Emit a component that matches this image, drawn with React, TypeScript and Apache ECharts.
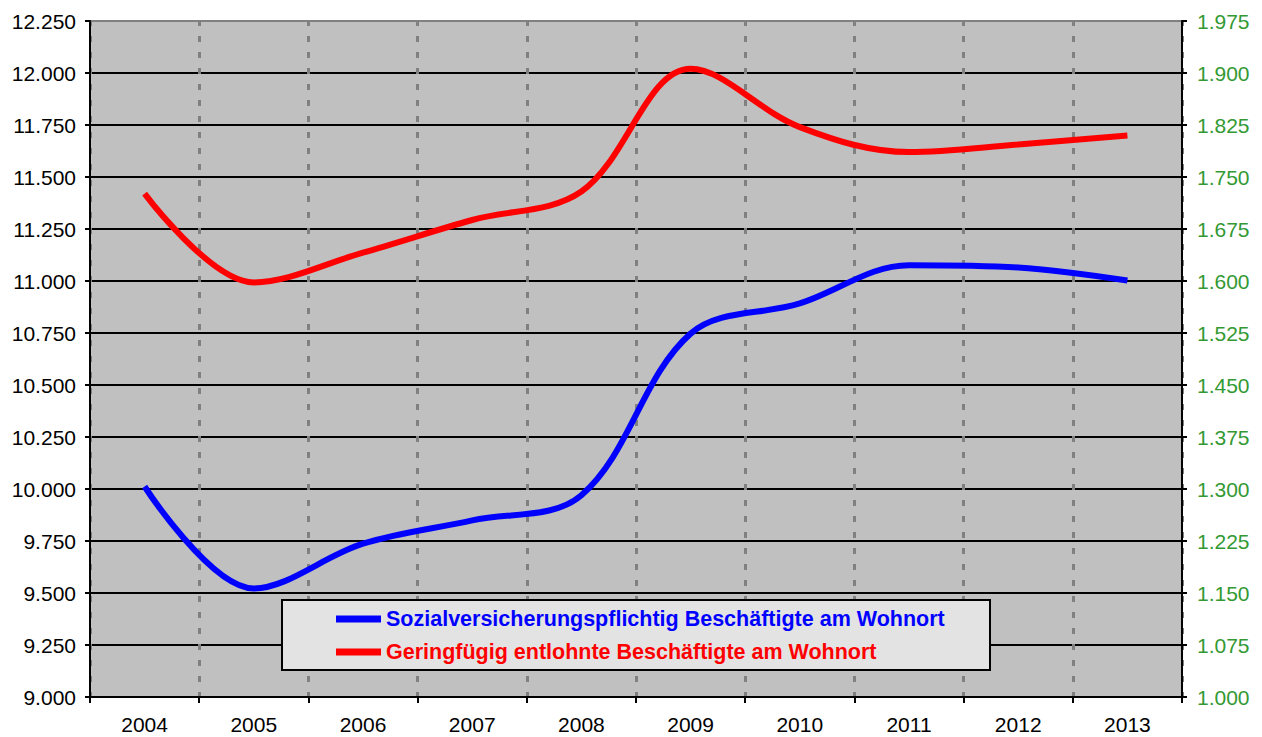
import React, { useEffect, useRef } from "react";
import * as echarts from "echarts";

const years = ["2004", "2005", "2006", "2007", "2008", "2009", "2010", "2011", "2012", "2013"];
const sozialValues = [10012, 9522, 9737, 9849, 9970, 10747, 10892, 11076, 11065, 11002];
const geringValues = [1726, 1598, 1641, 1688, 1729, 1906, 1822, 1786, 1797, 1810];
const sozialName = "Sozialversicherungspflichtig Beschäftigte am Wohnort";
const geringName = "Geringfügig entlohnte Beschäftigte am Wohnort";

const FONT = 'Arial, "Liberation Sans", sans-serif';

const fmt = (v: number) => {
  const s = Math.round(v).toString();
  return s.replace(/\B(?=(\d{3})+(?!\d))/g, ".");
};

export default function App() {
  const ref = useRef<HTMLDivElement>(null);
  useEffect(() => {
    if (!ref.current) return;
    const chart = echarts.init(ref.current, undefined, { renderer: "svg" });
    chart.setOption({
      animation: false,
      backgroundColor: "#ffffff",
      textStyle: { fontFamily: FONT },
      grid: {
        left: 90,
        right: 80,
        top: 21,
        bottom: 40,
        show: true,
        backgroundColor: "#c0c0c0",
        borderColor: "#808080",
        borderWidth: 2,
      },
      xAxis: {
        type: "category",
        data: years,
        boundaryGap: true,
        axisLine: { show: true, lineStyle: { color: "#000", width: 2 } },
        axisTick: { show: true, length: 6, lineStyle: { color: "#000", width: 2 } },
        axisLabel: { color: "#000", fontSize: 21, fontFamily: FONT, margin: 17 },
        splitLine: {
          show: true,
          lineStyle: { color: "#808080", width: 3, type: [6, 10], dashOffset: 1 },
        },
      },
      yAxis: [
        {
          type: "value",
          min: 9000,
          max: 12250,
          interval: 250,
          position: "left",
          axisLine: { show: true, lineStyle: { color: "#000", width: 2 } },
          axisTick: { show: true, length: 5, lineStyle: { color: "#000", width: 2 } },
          axisLabel: { color: "#000", fontSize: 21, fontFamily: FONT, margin: 14, formatter: fmt },
          splitLine: { show: true, showMaxLine: false, lineStyle: { color: "#000", width: 2 } },
        },
        {
          type: "value",
          min: 1000,
          max: 1975,
          interval: 75,
          position: "right",
          axisLine: { show: true, lineStyle: { color: "#000", width: 2 } },
          axisTick: { show: true, length: 5, lineStyle: { color: "#000", width: 2 } },
          axisLabel: { color: "#339933", fontSize: 21, fontFamily: FONT, margin: 15, formatter: fmt },
          splitLine: { show: false },
        },
      ],
      graphic: [
        {
          type: "rect",
          z: 3,
          shape: { x: 282, y: 600, width: 708, height: 70 },
          style: { fill: "#e3e3e3", stroke: "#000", lineWidth: 2 },
        },
      ],
      legend: {
        orient: "vertical",
        left: 331,
        top: 603,
        z: 5,
        itemWidth: 45,
        itemHeight: 7,
        itemGap: 11,
        icon: "rect",
        textStyle: { fontSize: 21.5, lineHeight: 22, fontWeight: "bold", fontFamily: FONT },
        data: [
          { name: sozialName, textStyle: { color: "#0000ff" } },
          { name: geringName, textStyle: { color: "#ff0000" } },
        ],
      },
      series: [
        {
          name: sozialName,
          type: "line",
          yAxisIndex: 0,
          data: sozialValues,
          smooth: 0.35,
          symbol: "none",
          lineStyle: { color: "#0000ff", width: 6 },
          itemStyle: { color: "#0000ff" },
          z: 2,
        },
        {
          name: geringName,
          type: "line",
          yAxisIndex: 1,
          data: geringValues,
          smooth: 0.35,
          symbol: "none",
          lineStyle: { color: "#ff0000", width: 6 },
          itemStyle: { color: "#ff0000" },
          z: 2,
        },
      ],
    });
    return () => chart.dispose();
  }, []);
  return (
    <div
      ref={ref}
      style={{ position: "fixed", left: 0, top: 0, width: 1262, height: 737, background: "#fff" }}
    />
  );
}
